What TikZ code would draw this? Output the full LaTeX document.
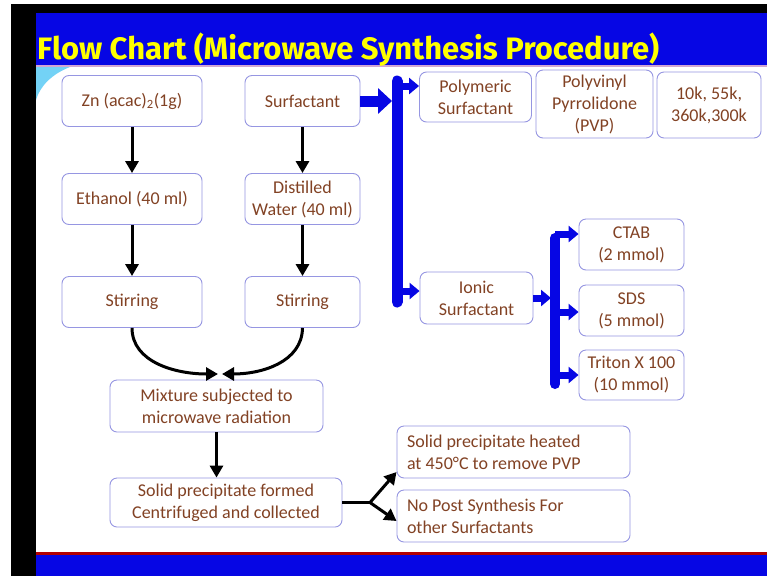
\documentclass[tikz,border=0pt]{standalone}
\usepackage{fontspec}
\setmainfont{Carlito}
\newfontfamily\titlefont{Fira Sans}
\usepackage{tikz}
\usetikzlibrary{arrows.meta,positioning}

\definecolor{slideblue}{RGB}{6,6,228}
\definecolor{txtbrown}{RGB}{130,66,36}
\definecolor{boxline}{RGB}{150,150,226}
\definecolor{titleyellow}{RGB}{255,255,0}

\tikzset{
  stepbox/.style={draw=boxline, line width=0.9pt, rounded corners=7pt, fill=white,
    text=txtbrown, align=center, inner sep=0pt, font=\fontsize{18}{22}\selectfont},
  notebox/.style={stepbox, align=flush left, inner xsep=10pt, text width=213pt,
    minimum width=233pt, minimum height=52pt},
  blackarrow/.style={line width=3pt, -{Triangle[length=12pt,width=13pt]}},
  fatarrow/.style={slideblue, line width=11pt, -{Triangle[length=14pt,width=25pt]}},
  thinarrow/.style={slideblue, line width=7pt, -{Triangle[length=10pt,width=16pt]}},
  bluebar/.style={slideblue, line width=11pt, line cap=round},
}

\begin{document}
\begin{tikzpicture}[line join=round,x=1pt,y=-1pt]
\useasboundingbox (0,0) rectangle (767,576);

% slide frame
\fill[white] (0,0) rectangle (767,576);
\fill[black] (11,4) rectangle (767,576);
\fill[white] (36,65) rectangle (767,553);
\fill[slideblue] (36,13) rectangle (767,65);
\fill[slideblue] (36,555) rectangle (767,576);
\fill[red!70!black] (36,552) rectangle (767,555);
\draw[violet!35, line width=1.5pt] (36,66) -- (767,66);
\fill[cyan!55] (36,67) -- (70,67) .. controls (52,74) and (40,86) .. (36,100) -- cycle;

\node[anchor=base west, text=titleyellow, inner sep=0pt,
  font=\titlefont\bfseries\fontsize{31}{34}\selectfont] (title) at (37,59)
  {Flow Chart (Microwave Synthesis Procedure)};

% left columns
\node[stepbox, minimum width=140pt, minimum height=51pt] (zn) at (132,101) {Zn (acac)\textsubscript{2}(1g)};
\node[stepbox, minimum width=115pt, minimum height=51pt] (surf) at (302.5,101) {Surfactant};
\node[stepbox, minimum width=140pt, minimum height=51pt] (eth) at (132,199) {Ethanol (40 ml)};
\node[stepbox, minimum width=115pt, minimum height=51pt] (dist) at (302.5,199) {Distilled\\Water (40 ml)};
\node[stepbox, minimum width=140pt, minimum height=51pt] (stir1) at (132,302) {Stirring};
\node[stepbox, minimum width=115pt, minimum height=51pt] (stir2) at (302.5,302) {Stirring};
\node[stepbox, minimum width=213pt, minimum height=52pt] (mix) at (216.5,406) {Mixture subjected to\\microwave radiation};
\node[stepbox, minimum width=232pt, minimum height=49pt] (solid) at (226,502.5) {Solid precipitate formed\\Centrifuged and collected};

% surfactant types
\node[stepbox, minimum width=112pt, minimum height=50pt] (poly) at (475.5,97) {Polymeric\\Surfactant};
\node[stepbox, minimum width=117pt, minimum height=68pt] (pvp) at (594.5,104) {Polyvinyl\\Pyrrolidone\\(PVP)};
\node[stepbox, minimum width=104pt, minimum height=66pt] (mw) at (709,105) {10k, 55k,\\360k,300k};
\node[stepbox, minimum width=113pt, minimum height=52pt] (ionic) at (476.5,298) {Ionic\\Surfactant};
\node[stepbox, minimum width=105pt, minimum height=51pt] (ctab) at (631.5,244.5) {CTAB\\(2 mmol)};
\node[stepbox, minimum width=105pt, minimum height=51pt] (sds) at (631.5,310.5) {SDS\\(5 mmol)};
\node[stepbox, minimum width=105pt, minimum height=50pt] (triton) at (631.5,375) {Triton X 100\\(10 mmol)};

% after synthesis
\node[notebox] (heat) at (513.5,452) {Solid precipitate heated\\at 450°C to remove PVP};
\node[notebox] (nopost) at (513.5,516) {No Post Synthesis For\\other Surfactants};

% black arrows
\draw[blackarrow] (zn) -- (eth);
\draw[blackarrow] (eth) -- (stir1);
\draw[blackarrow] (surf) -- (dist);
\draw[blackarrow] (dist) -- (stir2);
\coordinate (mixL) at (218,374);
\coordinate (mixR) at (222,374);
\draw[blackarrow] (stir1.south) .. controls (132,362) and (175,374) .. (mixL);
\draw[blackarrow] (stir2.south) .. controls (302,362) and (262,374) .. (mixR);
\draw[blackarrow] (mix.south) -- (mix.south |- solid.north);
\coordinate (fork) at (370,502.5);
\draw[line width=3pt] (solid.east) -- (fork);
\draw[blackarrow] (fork) -- ([yshift=-20pt]heat.west);
\draw[blackarrow] (fork) -- ([yshift=-5pt]nopost.west);

% blue branches
\coordinate (bar1top) at (397,81);
\coordinate (bar1bot) at (397,302);
\draw[bluebar] (bar1top) -- (bar1bot);
\draw[fatarrow] (surf.east) -- (392,101);
\coordinate (p1) at (397,86);
\coordinate (p2) at (397,291);
\draw[thinarrow] (p1) -- (p1 -| poly.west);
\draw[thinarrow] (p2) -- (p2 -| ionic.west);

\coordinate (bar2top) at (555,238);
\coordinate (bar2bot) at (555,384);
\draw[bluebar, line width=10pt] (bar2top) -- (bar2bot);
\draw[thinarrow] (ionic.east) -- (551,298);
\coordinate (q1) at (555,234);
\coordinate (q2) at (555,312);
\coordinate (q3) at (555,375);
\draw[thinarrow] (q1) -- (q1 -| ctab.west);
\draw[thinarrow] (q2) -- (q2 -| sds.west);
\draw[thinarrow] (q3) -- (q3 -| triton.west);
\end{tikzpicture}
\end{document}
